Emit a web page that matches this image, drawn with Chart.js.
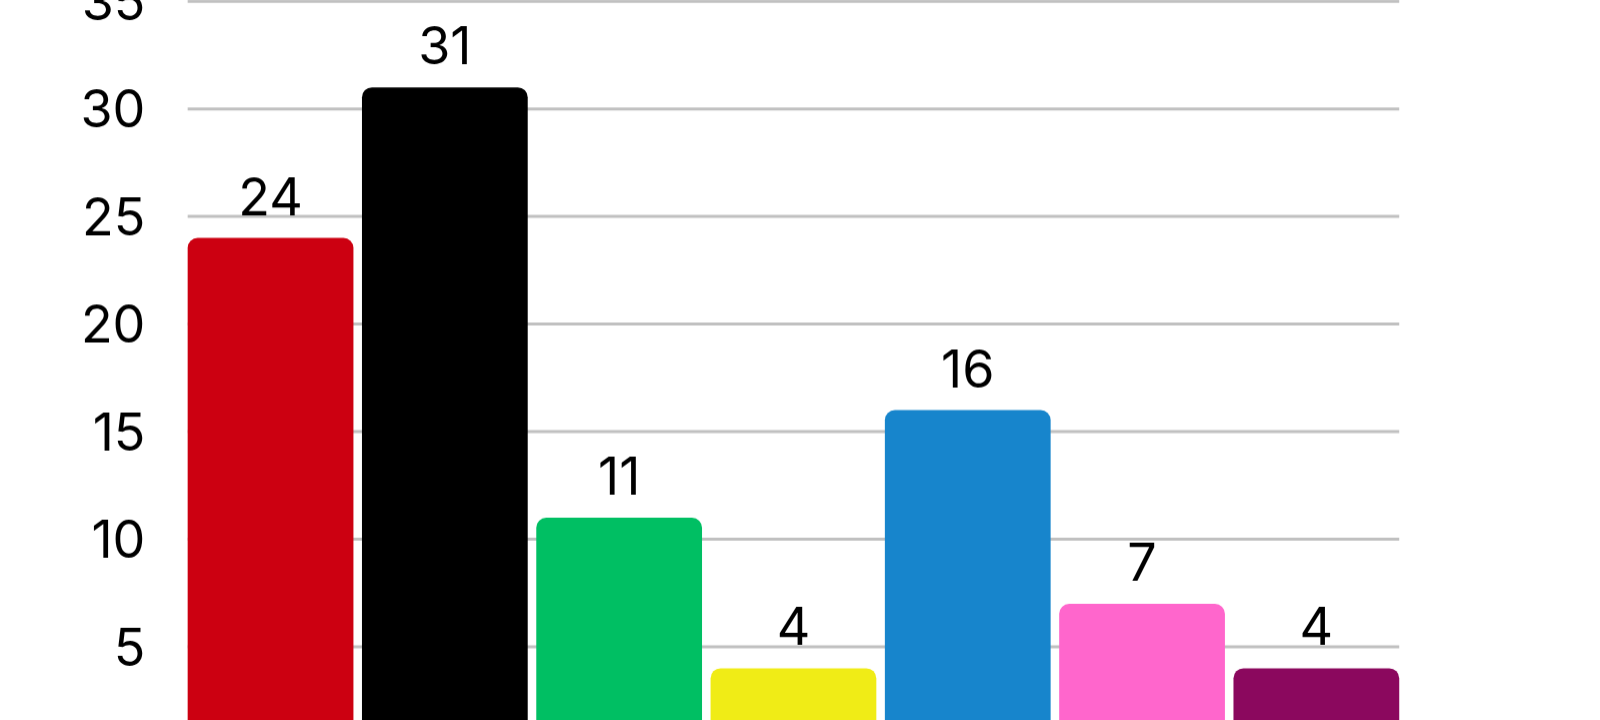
<!DOCTYPE html>
<html>
<head>
<meta charset="utf-8">
<script src="https://cdn.jsdelivr.net/npm/chart.js@4.4.0/dist/chart.umd.min.js"></script>
<style>
  html, body { margin: 0; padding: 0; background: #ffffff; overflow: hidden; width: 1600px; height: 720px; }
  #wrap { position: absolute; left: 0; top: -67.6px; width: 1600px; height: 890.6px; }
</style>
</head>
<body>
<div id="wrap"><canvas id="c"></canvas></div>
<script>
const categories = ["A", "B", "C", "D", "E", "F", "G"];
const values = [24, 31, 11, 4, 16, 7, 4];
const barColors = ["#cc0011", "#000000", "#00bf63", "#f0ec16", "#1785cc", "#ff66cc", "#8b085e"];
const yMin = 0, yMax = 35, yStep = 5;

const FONT = "Inter, Lato, sans-serif";

// gridlines drawn behind the bars, spanning from the first bar's left edge to the last bar's right edge
const barGrid = {
  id: 'barGrid',
  beforeDatasetsDraw(chart) {
    const ctx = chart.ctx;
    const meta = chart.getDatasetMeta(0);
    const yScale = chart.scales.y;
    const first = meta.data[0], last = meta.data[meta.data.length - 1];
    const x0 = first.x - first.width / 2;
    const x1 = last.x + last.width / 2;
    ctx.save();
    ctx.strokeStyle = "#c0c0c0";
    ctx.lineWidth = 3;
    yScale.ticks.forEach(t => {
      const y = yScale.getPixelForValue(t.value);
      ctx.beginPath();
      ctx.moveTo(x0, y);
      ctx.lineTo(x1, y);
      ctx.stroke();
    });
    ctx.restore();
  }
};

const valueLabels = {
  id: 'valueLabels',
  afterDatasetsDraw(chart) {
    const ctx = chart.ctx;
    const meta = chart.getDatasetMeta(0);
    ctx.save();
    ctx.font = "400 52px " + FONT;
    ctx.fillStyle = "#000000";
    ctx.textAlign = "center";
    ctx.textBaseline = "alphabetic";
    meta.data.forEach((bar, i) => {
      ctx.fillText(String(values[i]), bar.x, bar.y - 23);
    });
    ctx.restore();
  }
};

new Chart(document.getElementById('c'), {
  type: 'bar',
  data: {
    labels: categories,
    datasets: [{
      data: values,
      backgroundColor: barColors,
      borderWidth: 0,
      borderRadius: { topLeft: 10, topRight: 10, bottomLeft: 0, bottomRight: 0 },
      borderSkipped: 'bottom',
      barPercentage: 0.951,
      categoryPercentage: 1.0
    }]
  },
  options: {
    responsive: true,
    maintainAspectRatio: false,
    animation: false,
    layout: { padding: { left: 0, right: 196.5, top: 0, bottom: 0 } },
    plugins: { legend: { display: false }, tooltip: { enabled: false } },
    scales: {
      x: { display: false, grid: { display: false } },
      y: {
        min: yMin, max: yMax,
        afterFit(scale) { scale.width = 183.4; },
        border: { display: false },
        grid: { display: false, drawTicks: false },
        ticks: {
          stepSize: yStep,
          padding: 38,
          labelOffset: 3,
          color: "#000000",
          font: { family: FONT, size: 52, weight: 400 }
        }
      }
    }
  },
  plugins: [barGrid, valueLabels]
});
</script>
</body>
</html>
